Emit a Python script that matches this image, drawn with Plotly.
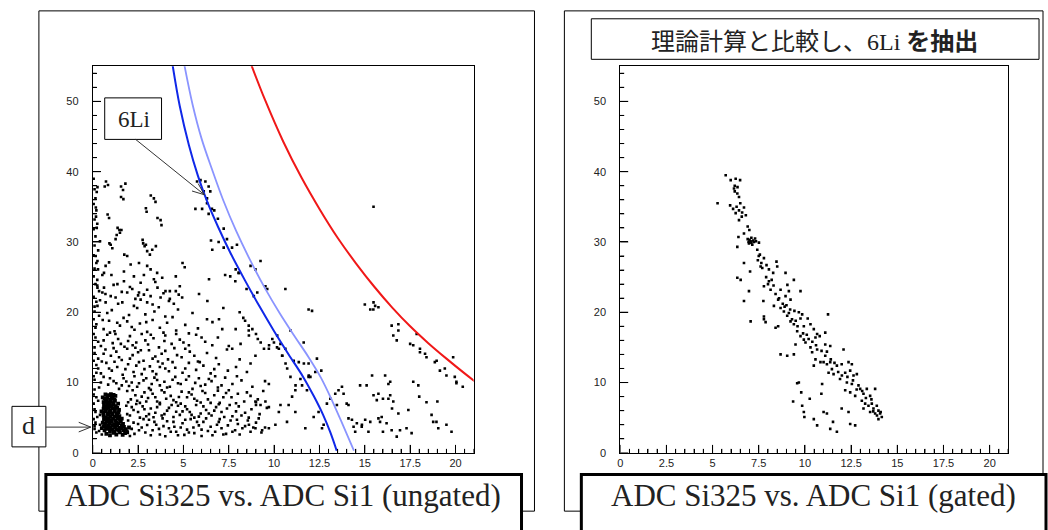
import math
import plotly.graph_objects as go

# ---------------- data ----------------
x_tick_step = 2.5
x_minor_step = 0.5
y_tick_step = 10
y_minor_step = 2

# theoretical curves (ungated panel)
red_x = [8.74, 9.5, 10.5, 11.5, 12.5, 13.5, 14.5, 15.5, 16.5, 17.5, 18.5, 19.5, 20.5, 21.2]
red_y = [55.2, 50.2, 44.3, 39.2, 34.7, 30.6, 27.0, 23.7, 20.7, 18.0, 15.6, 13.4, 11.3, 9.9]
blue_x = [4.4, 4.8, 5.3, 5.8, 6.3, 6.9, 7.6, 8.4, 9.2, 10.0, 10.8, 11.6, 12.2, 12.7, 13.1, 13.45]
blue_y = [55.2, 49.3, 43.8, 39.4, 35.8, 32.2, 28.4, 24.5, 20.8, 17.3, 14.0, 10.8, 8.0, 5.4, 2.9, 0.3]
lblue_x = [5.05, 5.5, 6.0, 6.58, 7.2, 7.9, 8.7, 9.5, 10.3, 11.1, 11.9, 12.6, 13.2, 13.8, 14.4]
lblue_y = [55.2, 49.6, 44.7, 40.3, 35.9, 31.6, 27.3, 23.4, 19.9, 16.7, 13.6, 10.6, 7.4, 3.9, 0.3]

# ungated events: upper / left region
ungated_upper = [
    (0.73, 38.6), (1.56, 37.9), (1.8, 38.3), (1.56, 36.4), (2.93, 34.8), (3.2, 36.6), (3.57, 33.4),
    (1.37, 32.0), (1.47, 31.7), (0.92, 29.8), (2.75, 30.3), (2.93, 29.6), (3.48, 29.4), (0.82, 33.9),
    (1.74, 28.2), (0.66, 37.9), (0.84, 38.1), (0.26, 37.8), (0.22, 37.1), (1.67, 37.4), (1.69, 36.1),
    (3.37, 36.2), (3.46, 35.7), (0.17, 34.9), (2.97, 34.3), (3.74, 33.1), (3.79, 32.4), (0.9, 33.4),
    (0.18, 33.6), (0.22, 32.0), (1.58, 31.7), (1.5, 31.3), (1.32, 31.0), (1.26, 30.4), (0.4, 30.1),
    (0.99, 29.6), (1.08, 29.1), (2.78, 29.8), (2.86, 29.4), (3.0, 28.7), (3.28, 28.9), (3.15, 28.2),
    (1.9, 28.0), (0.16, 28.0), (0.26, 27.3), (0.71, 26.6), (0.9, 27.1), (0.29, 26.1), (2.09, 26.8),
    (2.55, 27.0), (3.0, 26.6), (3.19, 26.1), (3.55, 25.6), (0.62, 25.6), (0.53, 25.3), (1.03, 25.3),
    (1.72, 25.8), (2.27, 25.1), (2.82, 25.3), (3.37, 24.7), (3.83, 24.9), (5.07, 26.4), (4.25, 23.0),
    (4.8, 23.7), (4.74, 22.5), (3.57, 23.5), (2.64, 24.2), (1.72, 24.4), (1.36, 24.0), (0.62, 23.5),
    (0.26, 23.5), (0.35, 23.0), (0.53, 22.8), (0.99, 22.3), (1.26, 22.1), (1.9, 22.8), (2.18, 23.3),
    (2.55, 22.8), (2.82, 22.5), (3.19, 22.3), (3.74, 22.1), (4.01, 23.0), (2.64, 21.8), (1.63, 21.4),
    (0.71, 21.4), (0.26, 20.9), (2.27, 20.9), (3.0, 21.4), (3.64, 20.7), (4.47, 21.2), (4.93, 22.1),
    (4.2, 21.6), (5.86, 22.6), (6.32, 21.6), (6.41, 24.7), (4.95, 27.0), (4.58, 23.0), (4.58, 25.1),
    (6.96, 19.0), (7.88, 17.6), (8.15, 15.5), (7.69, 14.8), (7.14, 17.6), (8.61, 16.7), (6.59, 15.3),
    (0.05, 39.0), (0.1, 37.5), (0.15, 36.2), (0.05, 35.4), (0.2, 34.5), (0.1, 33.2), (0.25, 32.6),
    (0.05, 31.8), (0.15, 30.8), (0.1, 29.5), (0.3, 28.8), (0.05, 28.1), (0.2, 27.0), (0.1, 26.2),
    (0.05, 25.1), (0.25, 24.6), (0.15, 24.0), (0.05, 22.2), (0.2, 21.5), (0.1, 20.1), (0.05, 19.0),
    (0.15, 17.8), (0.05, 16.9), (0.1, 15.0), (0.05, 13.1), (0.2, 11.4), (0.05, 10.9), (0.1, 9.0),
    (0.05, 7.0), (0.15, 5.8), (0.05, 4.8), (0.1, 3.8), (0.2, 2.9),
]

# ungated events: dense low-energy region
ungated_low = [
    (0.2, 18.3), (0.6, 17.6), (0.9, 18.8), (1.2, 17.3), (1.5, 18.1), (1.9, 18.7), (2.3, 17.5), (2.6, 18.4),
    (3.0, 17.2), (3.3, 18.9), (3.7, 17.8), (4.1, 18.5), (4.6, 17.4), (5.1, 18.2), (5.8, 17.7), (6.6, 18.6),
    (0.35, 19.5), (1.05, 20.3), (1.7, 19.2), (2.45, 20.6), (2.9, 19.7), (3.4, 20.1), (4.0, 19.4), (4.7, 20.4),
    (5.5, 19.9), (6.3, 19.0), (7.2, 20.6), (0.1, 20.8), (0.8, 19.9), (2.0, 19.6),
    (0.15, 16.4), (0.45, 15.2), (0.8, 16.8), (1.1, 15.6), (1.4, 16.2), (1.75, 15.1), (2.05, 16.6), (2.4, 15.7),
    (2.7, 16.9), (3.05, 15.4), (3.35, 16.3), (3.65, 15.0), (4.0, 16.7), (4.35, 15.5), (4.8, 16.1), (5.3, 15.3),
    (5.7, 16.8), (6.2, 15.8), (6.9, 16.4), (7.5, 15.2), (0.6, 16.0), (1.95, 15.9), (2.9, 16.0), (4.6, 16.9),
    (0.1, 14.2), (0.3, 13.4), (0.7, 14.7), (1.0, 13.8), (1.3, 14.4), (1.6, 13.2), (1.9, 14.8), (2.2, 13.9),
    (2.5, 14.3), (2.8, 13.1), (3.1, 14.6), (3.45, 13.7), (3.8, 14.1), (4.15, 13.3), (4.5, 14.9), (4.9, 13.6),
    (5.35, 14.4), (5.8, 13.0), (6.3, 14.2), (6.8, 13.5), (7.4, 14.7), (8.1, 13.3), (0.5, 13.0), (2.35, 14.95),
    (3.6, 13.0), (5.1, 14.8),
    (0.2, 12.5), (0.45, 11.3), (0.75, 12.8), (1.05, 11.7), (1.35, 12.2), (1.65, 11.1), (1.95, 12.6), (2.25, 11.5),
    (2.55, 12.9), (2.85, 11.9), (3.15, 12.3), (3.5, 11.2), (3.85, 12.7), (4.2, 11.6), (4.55, 12.1), (4.95, 11.4),
    (5.3, 12.8), (5.7, 11.8), (6.1, 12.4), (6.5, 11.3), (6.95, 12.6), (7.45, 11.7), (7.9, 12.2), (8.5, 11.5),
    (0.9, 12.0), (2.7, 11.2), (4.0, 12.0),
    (0.1, 10.4), (0.35, 9.3), (0.6, 10.8), (0.85, 9.7), (1.15, 10.2), (1.45, 9.1), (1.7, 10.6), (2.0, 9.5),
    (2.3, 10.9), (2.55, 9.9), (2.8, 10.3), (3.1, 9.2), (3.4, 10.7), (3.7, 9.6), (3.95, 10.1), (4.25, 9.4),
    (4.55, 10.8), (4.85, 9.8), (5.15, 10.4), (5.5, 9.1), (5.85, 10.6), (6.2, 9.7), (6.55, 10.2), (6.9, 9.3),
    (7.3, 10.7), (7.7, 9.8), (8.2, 10.3), (8.8, 9.4), (9.5, 10.2), (1.3, 9.9), (2.15, 10.0), (3.25, 9.8),
    (4.4, 10.4), (5.65, 9.95), (6.75, 10.9),
    (0.05, 8.3), (0.3, 7.4), (1.9, 8.8), (2.1, 7.6), (2.35, 8.2), (2.6, 7.1), (2.85, 8.6), (3.05, 7.8),
    (3.3, 8.4), (3.55, 7.3), (3.8, 8.9), (4.05, 7.7), (4.3, 8.1), (4.6, 7.2), (4.9, 8.7), (5.2, 7.9),
    (5.45, 8.3), (5.75, 7.4), (6.05, 8.8), (6.35, 7.6), (6.7, 8.2), (7.0, 7.1), (7.35, 8.5), (7.65, 7.9),
    (8.0, 8.4), (8.35, 7.3), (8.7, 8.1), (9.1, 7.6), (9.4, 8.8), (1.95, 7.2), (2.7, 8.0), (3.7, 7.1),
    (4.75, 7.95), (5.95, 7.15), (6.9, 8.85), (7.9, 7.05),
    (0.1, 6.2), (0.4, 5.4), (1.85, 6.7), (2.05, 5.3), (2.25, 6.1), (2.5, 5.8), (2.75, 6.6), (2.95, 5.2),
    (3.2, 6.3), (3.45, 5.7), (3.7, 6.9), (3.95, 5.5), (4.2, 6.4), (4.45, 5.1), (4.7, 6.7), (4.95, 5.9),
    (5.2, 6.2), (5.45, 5.4), (5.7, 6.8), (5.95, 5.6), (6.25, 6.1), (6.55, 5.3), (6.8, 6.5), (7.1, 5.8),
    (7.4, 6.3), (7.7, 5.2), (8.05, 6.6), (8.4, 5.7), (8.75, 6.2), (9.2, 5.5), (9.6, 6.4), (2.4, 6.95),
    (3.35, 5.05), (4.6, 5.85), (5.85, 5.15), (6.95, 6.9), (8.2, 5.3),
    (0.15, 4.3), (0.35, 3.1), (0.5, 2.6), (1.95, 4.6), (2.15, 3.4), (2.3, 2.7), (2.5, 4.1), (2.7, 3.6),
    (2.9, 2.9), (3.1, 4.7), (3.3, 3.2), (3.5, 4.0), (3.7, 2.6), (3.9, 3.8), (4.1, 4.5), (4.3, 3.0),
    (4.5, 3.7), (4.7, 2.5), (4.95, 4.2), (5.2, 3.3), (5.4, 4.8), (5.6, 2.8), (5.85, 3.9), (6.1, 4.4),
    (6.35, 3.1), (6.6, 2.5), (6.85, 4.0), (7.1, 3.5), (7.35, 2.7), (7.6, 4.6), (7.85, 3.2), (8.1, 2.6),
    (8.4, 3.8), (8.7, 3.0), (9.0, 4.3), (9.3, 2.9), (2.05, 2.4), (3.0, 3.95), (4.0, 2.35), (5.05, 2.55),
    (6.0, 2.4), (7.0, 4.8), (8.0, 4.1),
]

ungated_low2 = [
    (0.25, 23.8), (0.7, 22.6), (1.15, 23.9), (1.6, 22.9), (2.05, 23.6), (2.5, 22.4), (3.0, 23.2), (3.45, 24.3),
    (3.9, 22.7), (0.4, 21.7), (1.4, 21.2), (2.35, 21.9), (3.3, 21.1), (4.25, 21.9),
    (0.55, 18.9), (1.35, 18.5), (2.15, 17.9), (2.95, 18.6), (3.9, 17.1), (4.4, 19.3), (5.3, 17.0), (0.95, 17.1),
    (0.3, 15.8), (1.25, 16.9), (2.2, 15.3), (3.2, 16.8), (3.95, 15.9), (5.0, 15.7), (6.0, 16.4), (1.55, 15.5),
    (0.6, 14.1), (1.45, 13.6), (2.05, 13.4), (2.65, 14.6), (3.3, 13.4), (4.0, 14.5), (4.65, 13.9), (5.6, 13.8),
    (1.15, 14.9), (0.3, 12.0), (1.2, 12.95), (1.8, 11.9), (2.4, 12.4), (3.3, 11.6), (3.7, 12.2), (4.4, 12.9),
    (5.1, 12.0), (5.9, 12.9), (6.7, 11.9),
    (0.45, 10.0), (0.95, 10.6), (1.6, 9.6), (1.85, 10.15), (2.45, 9.4), (2.95, 10.6), (3.55, 10.35), (4.1, 9.3),
    (4.7, 9.9), (5.3, 10.9), (5.95, 9.5), (6.4, 10.5), (7.1, 9.6), (7.95, 10.9),
    (0.2, 7.9), (2.2, 8.9), (2.45, 7.4), (2.95, 7.3), (3.2, 8.95), (3.45, 7.9), (3.95, 8.6), (4.45, 7.5),
    (4.85, 7.0), (5.3, 8.6), (5.6, 7.7), (6.2, 8.5), (6.5, 7.1), (7.2, 7.9), (7.5, 8.9), (8.5, 8.6), (9.0, 7.2),
    (0.25, 5.1), (1.9, 5.5), (2.15, 6.5), (2.6, 5.0), (2.85, 6.2), (3.1, 5.5), (3.55, 6.5), (3.8, 5.3),
    (4.1, 6.0), (4.35, 6.8), (4.8, 5.4), (5.1, 6.6), (5.35, 5.8), (5.6, 5.0), (6.1, 6.6), (6.4, 5.6),
    (6.7, 6.0), (7.25, 5.1), (7.55, 6.8), (7.9, 5.9), (8.6, 5.0), (9.0, 6.8),
    (0.1, 3.4), (0.4, 4.0), (1.9, 3.1), (2.25, 4.3), (2.55, 3.2), (2.8, 4.8), (3.2, 2.5), (3.4, 4.4),
    (3.65, 3.4), (3.85, 4.9), (4.2, 3.5), (4.45, 4.4), (4.6, 3.0), (4.85, 3.6), (5.1, 4.7), (5.3, 2.9),
    (5.55, 3.6), (5.75, 4.4), (6.0, 3.3), (6.25, 4.9), (6.5, 3.7), (6.75, 3.0), (6.95, 4.4), (7.2, 2.6),
    (7.45, 3.9), (7.7, 3.0), (7.95, 4.7), (8.25, 3.5), (8.55, 4.6), (8.85, 3.6), (9.15, 4.9), (9.5, 3.6),
]

# ungated events: 6Li band and high-energy tail
ungated_band = [
    (5.75, 38.6), (5.94, 38.8), (6.21, 38.6), (6.39, 37.9), (6.12, 37.2), (6.48, 37.2), (6.3, 36.2),
    (5.66, 34.7), (6.03, 34.7), (6.3, 35.5), (6.39, 34.0), (6.57, 34.7), (6.7, 34.5), (6.9, 33.3),
    (7.22, 31.9), (6.52, 30.2), (6.94, 30.0), (7.22, 29.2), (7.4, 30.4), (7.68, 29.2), (7.95, 29.6),
    (6.59, 28.9), (7.3, 25.3), (7.58, 25.1), (7.86, 24.4), (8.04, 25.6), (7.88, 26.1), (8.06, 25.6),
    (9.25, 27.3), (8.97, 26.1), (8.7, 26.6), (9.52, 23.7), (9.62, 23.3), (10.62, 23.3), (8.48, 23.3),
    (8.88, 22.3), (9.07, 22.8), (11.9, 20.4), (12.09, 20.2), (15.48, 35.0),
    (8.1, 20.0), (8.3, 19.2), (8.4, 18.8), (8.6, 18.1), (8.6, 17.4), (8.8, 17.6), (9.0, 16.9), (9.1, 16.2),
    (9.26, 15.7), (9.44, 14.8), (9.72, 15.3), (9.9, 16.2), (9.99, 15.7), (10.17, 16.7), (10.26, 14.8),
    (10.45, 13.8), (10.63, 12.7), (10.72, 12.0), (10.9, 10.8), (11.45, 10.5), (11.64, 12.7), (11.91, 11.0),
    (12.0, 10.8), (11.18, 9.6), (11.54, 9.6), (13.83, 8.4), (13.46, 6.8), (14.1, 6.8), (14.0, 7.0),
    (14.56, 4.2), (14.83, 3.7), (15.2, 3.0), (15.3, 4.4), (15.84, 4.4), (16.2, 4.2), (16.0, 3.0),
    (15.4, 11.0), (16.4, 10.1), (16.76, 16.0), (16.85, 17.4), (17.5, 15.5), (18.04, 14.3), (18.4, 13.6),
    (19.14, 11.7), (19.5, 11.0), (20.05, 9.9), (20.4, 9.4), (17.95, 9.6), (18.4, 7.2), (18.95, 4.4),
    (19.05, 3.5), (19.78, 3.0), (17.58, 2.8), (16.76, 2.3), (16.85, 5.6), (16.4, 8.2), (15.66, 7.5),
    (16.0, 7.7), (16.5, 6.3), (15.47, 20.4), (15.75, 20.7), (15.3, 20.4),
    (15.0, 21.1), (15.57, 20.9), (15.48, 21.4), (16.48, 18.1), (16.85, 18.3), (16.57, 16.7), (17.86, 16.9),
    (17.67, 15.3), (18.04, 14.8), (18.32, 14.1), (18.86, 12.9), (18.96, 13.1), (19.41, 12.0), (19.87, 13.6),
    (19.96, 10.8), (20.05, 10.1), (17.67, 10.1), (16.3, 9.8), (15.1, 9.6), (14.74, 9.6), (16.12, 11.0),
    (18.0, 8.0), (19.0, 7.3), (15.48, 8.2), (15.75, 8.4), (16.3, 7.7), (16.57, 7.3), (17.4, 6.1),
    (18.68, 5.4), (18.77, 4.4), (19.5, 4.0), (17.3, 3.5), (16.94, 3.2), (16.48, 3.2), (15.93, 5.1),
    (15.75, 4.9), (15.02, 4.7), (14.84, 4.0), (14.47, 3.0), (14.38, 3.7), (14.29, 4.7), (14.1, 4.9),
    (13.74, 9.4), (13.55, 8.9), (13.37, 8.4), (13.1, 7.7), (12.91, 7.0), (12.36, 13.4), (12.27, 11.5),
    (12.6, 11.7), (11.9, 10.8), (11.81, 8.9), (11.17, 8.9), (10.99, 8.0), (10.8, 6.8), (11.17, 5.8),
    (10.71, 4.4), (11.72, 3.5), (12.18, 5.1), (12.45, 5.8), (12.73, 4.0), (12.64, 3.5), (9.71, 9.8),
    (8.97, 7.3), (9.25, 6.8), (9.52, 7.3), (9.71, 6.5), (10.26, 5.8), (10.35, 6.8), (10.07, 4.0),
    (9.71, 3.5), (9.34, 3.2), (8.97, 3.5), (8.61, 4.0), (8.7, 12.7), (8.97, 13.8), (9.71, 14.8),
    (10.16, 15.0), (10.35, 15.5), (10.62, 14.8), (10.44, 13.8), (10.9, 17.4), (11.08, 13.1),
    (11.36, 12.9), (11.63, 15.7), (11.9, 12.7),
]

# deuteron cluster
deuteron = [
    (0.7, 8.3), (0.85, 8.2), (1.0, 8.35), (1.15, 8.25), (1.25, 8.1),
    (0.65, 7.7), (0.8, 7.9), (0.95, 7.6), (1.1, 7.8), (1.2, 7.55), (0.75, 7.5), (1.05, 7.95),
    (0.6, 7.2), (0.72, 7.35), (0.88, 7.1), (1.0, 7.3), (1.12, 7.05), (1.22, 7.4), (0.8, 7.0),
    (0.62, 6.8), (0.75, 6.6), (0.9, 6.9), (1.02, 6.55), (1.15, 6.85), (1.27, 6.65), (0.68, 6.5), (0.95, 6.7),
    (0.6, 6.3), (0.7, 6.1), (0.85, 6.4), (0.98, 6.05), (1.1, 6.35), (1.22, 6.15), (1.35, 6.4), (0.78, 6.25),
    (0.58, 5.7), (0.7, 5.9), (0.82, 5.55), (0.95, 5.85), (1.07, 5.6), (1.2, 5.9), (1.32, 5.65), (1.42, 5.8), (0.9, 5.7),
    (0.6, 5.3), (0.72, 5.05), (0.85, 5.4), (0.97, 5.15), (1.1, 5.45), (1.22, 5.1), (1.35, 5.35), (1.47, 5.2), (0.65, 5.0),
    (0.62, 4.8), (0.75, 4.6), (0.88, 4.9), (1.0, 4.65), (1.12, 4.85), (1.25, 4.55), (1.38, 4.95), (1.5, 4.7), (1.6, 4.85),
    (0.55, 4.3), (0.68, 4.1), (0.8, 4.4), (0.93, 4.15), (1.05, 4.45), (1.18, 4.05), (1.3, 4.35), (1.42, 4.2),
    (1.55, 4.45), (1.67, 4.1),
    (0.6, 3.8), (0.73, 3.55), (0.86, 3.9), (0.98, 3.65), (1.1, 3.95), (1.23, 3.6), (1.35, 3.85), (1.48, 3.55),
    (1.6, 3.9), (1.72, 3.7),
    (0.65, 3.2), (0.8, 3.4), (0.95, 3.1), (1.08, 3.35), (1.2, 3.05), (1.33, 3.3), (1.45, 3.15), (1.58, 3.45),
    (1.7, 3.2), (1.82, 3.35),
    (0.75, 2.7), (0.95, 2.5), (1.15, 2.85), (1.3, 2.6), (1.5, 2.9), (1.65, 2.55), (1.78, 2.8),
    (0.5, 3.5), (0.48, 5.9), (1.9, 2.9), (2.0, 3.6), (1.45, 6.1), (1.4, 7.0), (0.55, 7.9),
]

# gated (6Li) events
gated = [
    (5.27, 35.5), (5.71, 39.5), (5.98, 38.8), (6.25, 39.0), (6.49, 38.8), (6.16, 37.6), (6.2, 37.2),
    (6.34, 36.9), (6.43, 36.4), (5.95, 35.2), (6.11, 34.7), (6.25, 34.1), (6.43, 34.5), (6.7, 34.9),
    (6.8, 33.8), (6.58, 33.6), (6.43, 33.1), (6.9, 32.2), (6.99, 31.7), (6.7, 31.2), (6.4, 30.7),
    (6.9, 30.4), (7.06, 30.1), (7.24, 30.0), (6.97, 29.8), (7.15, 29.6), (7.51, 29.9), (6.34, 29.3),
    (7.42, 28.9), (7.56, 28.2), (7.45, 27.4), (7.78, 27.7), (7.64, 27.0), (6.7, 27.0), (7.92, 26.7),
    (8.05, 26.1), (7.69, 26.3), (7.03, 25.8), (8.46, 27.2), (8.5, 26.5), (8.28, 25.6), (6.34, 24.9),
    (6.52, 24.6), (8.95, 25.6), (9.4, 24.6), (9.05, 23.9), (7.78, 23.7), (8.05, 24.4), (8.14, 23.2),
    (8.41, 22.6), (8.68, 23.2), (8.95, 22.3), (9.13, 23.0), (9.76, 23.0), (9.22, 21.8), (8.55, 21.8),
    (7.75, 21.6), (6.7, 21.6), (6.97, 23.0), (7.06, 18.7), (8.32, 20.9), (8.68, 20.6), (8.86, 20.1),
    (9.13, 19.9), (9.43, 20.2), (9.67, 20.0), (9.85, 19.7), (9.76, 19.1), (9.22, 18.7), (9.4, 18.3),
    (9.04, 19.5), (8.41, 17.8), (7.78, 19.0), (9.94, 18.0), (10.15, 19.1), (10.3, 18.3), (9.58, 17.3),
    (9.76, 16.6), (9.94, 16.1), (10.03, 15.7), (9.49, 15.4), (10.48, 17.6), (10.66, 16.9), (10.57, 16.4),
    (10.8, 16.6), (11.1, 17.1), (11.25, 19.7), (10.3, 15.0), (10.39, 14.3), (10.66, 14.7), (11.1, 15.4),
    (11.37, 15.2), (11.19, 14.4), (10.57, 13.3), (10.84, 12.9), (11.01, 12.9), (11.19, 12.6), (11.37, 12.9),
    (10.48, 12.4), (11.46, 11.9), (11.28, 11.4), (11.55, 11.2), (11.73, 12.4), (11.99, 12.6), (12.09, 14.7),
    (12.36, 12.9), (12.54, 12.6), (12.18, 11.4), (12.45, 11.7), (12.63, 11.0), (12.81, 11.2), (11.9, 10.5),
    (12.27, 10.0), (12.54, 9.8), (12.9, 9.6), (12.18, 8.9), (12.45, 8.6), (12.72, 8.1), (12.99, 9.1),
    (13.17, 8.4), (13.35, 9.1), (13.53, 8.1), (13.8, 9.1), (13.08, 7.4), (13.26, 7.0), (13.44, 6.7),
    (13.62, 7.0), (13.71, 6.3), (13.89, 6.7), (13.98, 6.0), (14.07, 5.6), (14.16, 5.1), (13.98, 4.8),
    (13.53, 5.8), (13.17, 6.3), (13.8, 5.6), (9.58, 9.9), (9.67, 10.0), (9.8, 8.6), (9.85, 6.7),
    (9.94, 5.8), (9.97, 5.1), (9.36, 7.3), (10.26, 7.7), (10.48, 4.8), (10.66, 3.9), (10.93, 9.8),
    (10.89, 8.4), (11.01, 5.8), (11.19, 5.6), (11.37, 3.4), (11.52, 4.4), (11.73, 3.0), (11.99, 6.3),
    (12.36, 5.8), (12.45, 4.1), (12.72, 3.9), (9.4, 14.0), (8.68, 14.0), (9.04, 13.8), (7.78, 19.4),
    (8.55, 18.0), (7.87, 18.6),
    (7.0, 30.3), (7.1, 30.6), (7.2, 30.2), (7.3, 30.5), (7.1, 29.9), (6.95, 30.0), (7.35, 30.1),
    (6.2, 38.0), (6.35, 37.8), (6.5, 35.5), (6.6, 34.2), (6.3, 35.0), (7.5, 28.0), (7.6, 26.5),
    (7.9, 25.0), (8.0, 24.0), (8.2, 24.6), (8.3, 23.8), (8.6, 22.0), (8.8, 21.2), (8.9, 20.8),
    (9.0, 21.0), (9.2, 20.4), (9.3, 19.0), (9.5, 18.8), (9.6, 18.0), (9.9, 17.0), (10.1, 16.8),
    (10.2, 16.2), (10.4, 15.8), (10.6, 15.3), (10.9, 14.5), (11.1, 13.8), (11.4, 13.3), (11.6, 12.8),
    (11.8, 11.5), (12.0, 11.0), (12.3, 10.8), (12.6, 10.3), (12.8, 9.0), (13.1, 8.8), (13.3, 7.8),
    (13.6, 7.6), (13.7, 5.9), (13.9, 5.3), (14.1, 5.8),
]

# ---------------- figure ----------------
W, H = 1048, 530
PLOT_TOP, PLOT_BOTTOM = 67, 458
LEFT_X0, LEFT_X1 = 90, 472
RIGHT_X0, RIGHT_X1 = 619, 1008


def fx(p):
    return p / W


def fy(p):
    return 1 - p / H


def xs(pts):
    return [p[0] for p in pts]


def ys(pts):
    return [p[1] for p in pts]


dot = dict(symbol="square", size=2.6, color="black", line=dict(width=0))

fig = go.Figure()
ungated_all = ungated_upper + ungated_low + ungated_low2 + ungated_band
fig.add_trace(go.Scatter(x=xs(ungated_all), y=ys(ungated_all), mode="markers",
                         marker=dot, xaxis="x", yaxis="y", showlegend=False))
fig.add_trace(go.Scatter(x=xs(deuteron), y=ys(deuteron), mode="markers",
                         marker=dict(symbol="square", size=3.8, color="black", line=dict(width=0)),
                         xaxis="x", yaxis="y", showlegend=False))
fig.add_trace(go.Scatter(x=red_x, y=red_y, mode="lines", line=dict(color="#f01818", width=2, shape="spline"),
                         xaxis="x", yaxis="y", showlegend=False))
fig.add_trace(go.Scatter(x=lblue_x, y=lblue_y, mode="lines", line=dict(color="#8a94ff", width=1.8, shape="spline"),
                         xaxis="x", yaxis="y", showlegend=False))
fig.add_trace(go.Scatter(x=blue_x, y=blue_y, mode="lines", line=dict(color="#1028e8", width=2, shape="spline"),
                         xaxis="x", yaxis="y", showlegend=False))
fig.add_trace(go.Scatter(x=xs(gated), y=ys(gated), mode="markers", marker=dot,
                         xaxis="x2", yaxis="y2", showlegend=False))

tickfont = dict(family="Liberation Sans, Arial, sans-serif", size=11, color="#222")


def xaxis_cfg(dom, anchor):
    return dict(domain=dom, anchor=anchor, range=[0, 21], tickmode="linear", tick0=0, dtick=x_tick_step,
                ticks="inside", ticklen=8, tickwidth=1, tickcolor="black",
                minor=dict(dtick=x_minor_step, tick0=0, ticks="inside", ticklen=4, tickcolor="black",
                           tickwidth=1),
                showline=True, linecolor="black", linewidth=1, mirror=True, showgrid=False,
                zeroline=False, tickfont=tickfont)


def yaxis_cfg(anchor):
    return dict(domain=[fy(PLOT_BOTTOM), fy(PLOT_TOP)], anchor=anchor, range=[0, 55], tickmode="linear",
                tick0=0, dtick=y_tick_step, ticks="inside", ticklen=8, tickwidth=1, tickcolor="black",
                minor=dict(dtick=y_minor_step, tick0=0, ticks="inside", ticklen=4, tickcolor="black",
                           tickwidth=1),
                showline=True, linecolor="black", linewidth=1, mirror=True, showgrid=False,
                zeroline=False, tickfont=tickfont, ticksuffix="\u2002\u2002")


shapes = []


def rect(x0, y0, x1, y1, width=1, fill="rgba(0,0,0,0)", layer="above"):
    shapes.append(dict(type="rect", xref="paper", yref="paper", x0=fx(x0), x1=fx(x1), y0=fy(y1), y1=fy(y0),
                       line=dict(color="black", width=width), fillcolor=fill, layer=layer))


def seg(x0, y0, x1, y1, width=1, color="#333"):
    shapes.append(dict(type="line", xref="paper", yref="paper", x0=fx(x0), x1=fx(x1), y0=fy(y0), y1=fy(y1),
                       line=dict(color=color, width=width)))


def arrow(x0, y0, x1, y1, head=13, ang=22):
    seg(x0, y0, x1, y1)
    d = math.atan2(y0 - y1, x0 - x1)
    for s in (-1, 1):
        a = d + s * math.radians(ang)
        seg(x1, y1, x1 + head * math.cos(a), y1 + head * math.sin(a))


# tick marks drawn on the axes' own data scales (shapes referencing the axes)
plot_h = PLOT_BOTTOM - PLOT_TOP
for sfx, width_px in (("", LEFT_X1 - LEFT_X0), ("2", RIGHT_X1 - RIGHT_X0)):
    for i in range(int(21 / x_minor_step) + 1):
        v = i * x_minor_step
        ln = 8 if i % int(x_tick_step / x_minor_step) == 0 else 4
        shapes.append(dict(type="line", xref="x" + sfx, yref="y" + sfx + " domain", x0=v, x1=v,
                           y0=0, y1=ln / plot_h, line=dict(color="black", width=1)))
    for i in range(int(55 / y_minor_step) + 1):
        v = i * y_minor_step
        ln = 8 if v % y_tick_step == 0 else 4
        shapes.append(dict(type="line", xref="x" + sfx + " domain", yref="y" + sfx, x0=0, x1=ln / width_px,
                           y0=v, y1=v, line=dict(color="black", width=1)))

# outer pad frames
rect(36, 11, 533, 517)
rect(563, 11, 1043, 517)
# title boxes
rect(590, 19, 1039, 60, fill="white")
rect(43, 480, 520, 540, width=3, fill="white")
rect(580, 480, 1046, 540, width=3, fill="white")
# label boxes
rect(102, 99, 159, 141, fill="white")
rect(9, 411, 43, 452, fill="white")
arrow(133, 141, 202, 197)
arrow(43, 432, 88, 432)

serif = "Liberation Serif, Times New Roman, serif"
annotations = [
    dict(text="ADC Si325 vs. ADC Si1 (ungated)", x=fx(281), y=fy(501), font=dict(family=serif, size=31, color="#222")),
    dict(text="ADC Si325 vs. ADC Si1 (gated)", x=fx(813), y=fy(501), font=dict(family=serif, size=31, color="#222")),
    dict(text="6Li", x=fx(131), y=fy(121), font=dict(family=serif, size=23, color="#222")),
    dict(text="d", x=fx(26), y=fy(430), font=dict(family=serif, size=26, color="#222")),
    dict(text='理論計算と比較し、<span style="font-family:Liberation Serif">6Li </span><b>を抽出</b>',
         x=fx(814), y=fy(40), font=dict(family="Noto Sans CJK JP", size=24, color="#222")),
]
for a in annotations:
    a.update(xref="paper", yref="paper", xanchor="center", yanchor="middle", showarrow=False)

fig.update_layout(
    width=W, height=H, autosize=False, margin=dict(l=0, r=0, t=0, b=0),
    paper_bgcolor="white", plot_bgcolor="white", showlegend=False,
    xaxis=xaxis_cfg([fx(LEFT_X0), fx(LEFT_X1)], "y"), yaxis=yaxis_cfg("x"),
    xaxis2=xaxis_cfg([fx(RIGHT_X0), fx(RIGHT_X1)], "y2"), yaxis2=yaxis_cfg("x2"),
    shapes=shapes, annotations=annotations,
)

fig.write_html("out.html", config={"displayModeBar": False, "staticPlot": True})
